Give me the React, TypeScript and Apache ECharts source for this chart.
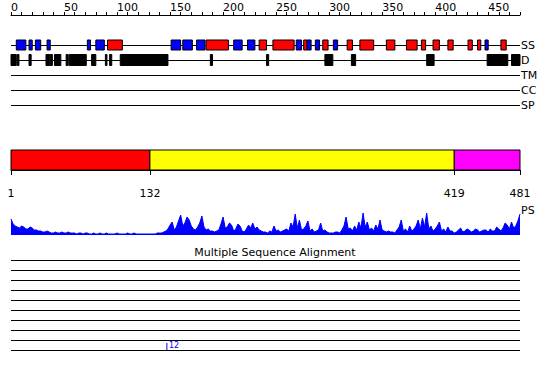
import React, { useEffect, useRef } from 'react';
import * as echarts from 'echarts';

const SEQ_MAX = 480;
const trackNames = ['SS', 'D', 'TM', 'CC', 'SP'];
// secondary structure (positions on the residue scale)
const helixSegments = [
  [91, 105], [184, 205], [234, 241], [247, 267], [276, 279], [294, 299], [317, 322],
  [329, 342], [354, 362], [373, 383], [387, 391], [398, 404], [412, 417], [431, 435],
  [440, 443], [462, 467],
];
const strandSegments = [
  [5, 14], [17, 20], [23, 28], [34, 37], [72, 75], [80, 88], [151, 160], [162, 171],
  [175, 183], [210, 218], [223, 230], [269, 274], [279, 283], [287, 291], [304, 308],
  [447, 450],
];
const disorderSegments = [
  [0, 5], [6, 7.5], [17, 19], [33, 36.5], [37, 39], [41, 47], [52, 54], [55, 71],
  [76, 80], [89, 90.5], [93, 95], [103, 148], [188, 190], [241, 243], [296, 303.5],
  [321, 325], [392, 399], [449, 468.5], [472, 480],
];
const domainStarts = [1, 132, 419];
const domainEnds = [132, 419, 481];
const domainColors = ['#ff0000', '#ffff00', '#ff00ff'];
const scaleLabels = [1, 132, 419, 481];
const profileStep = 2;
const profileValues = [
  16, 11, 9, 8, 7, 9, 8, 6, 6, 8, 7, 5, 5, 4, 4, 3, 3, 4, 3, 2,
  2, 3, 2, 2, 3, 2, 2, 3, 2, 2, 2, 1, 2, 2, 1, 2, 2, 1, 1, 2,
  1, 1, 2, 1, 1, 2, 1, 1, 1, 1, 2, 1, 1, 1, 1, 2, 1, 1, 2, 1,
  1, 1, 1, 1, 1, 1, 1, 1, 1, 2, 2, 2, 3, 4, 6, 10, 13, 5, 8, 14,
  20, 9, 12, 18, 15, 9, 6, 5, 8, 12, 19, 8, 5, 6, 4, 4, 3, 4, 5, 11,
  18, 7, 8, 12, 10, 4, 6, 11, 9, 4, 3, 6, 10, 7, 12, 6, 8, 5, 4, 3,
  3, 2, 4, 3, 9, 4, 5, 3, 4, 5, 6, 4, 12, 8, 21, 7, 15, 5, 6, 9,
  14, 4, 6, 3, 4, 5, 12, 4, 5, 3, 2, 2, 2, 3, 3, 2, 5, 9, 18, 6,
  7, 4, 9, 5, 13, 7, 22, 8, 13, 5, 7, 4, 10, 6, 15, 5, 4, 3, 4, 3,
  3, 2, 5, 8, 15, 4, 6, 3, 9, 4, 6, 9, 15, 6, 17, 8, 22, 6, 9, 4,
  6, 9, 13, 4, 6, 3, 8, 4, 4, 2, 3, 5, 7, 3, 4, 6, 5, 3, 4, 6,
  5, 3, 4, 5, 5, 3, 6, 4, 4, 8, 6, 4, 7, 12, 10, 6, 13, 7, 9, 14,
  21,
];
const msaRows = ['1', '2', '3', '4', '5', '6', '7', '8', '9', '10'];
const msaMarks = [{ pos: 147, row: 9, text: '12' }];
const msaTitle = 'Multiple Sequence Alignment';

const FONT = 'DejaVu Sans';

export default function App() {
  const ref = useRef<HTMLDivElement>(null);
  useEffect(() => {
    const chart = echarts.init(ref.current!, null, { renderer: 'svg' });
    const gridX = { left: 11, width: 509 };
    const hiddenX = (gi: number) => ({
      type: 'value', gridIndex: gi, min: 0, max: SEQ_MAX, show: false,
    });
    const option: any = {
      animation: false,
      backgroundColor: '#ffffff',
      title: {
        text: msaTitle, left: 'center', top: 242,
        textStyle: { fontFamily: FONT, fontSize: 11, fontWeight: 'normal', color: '#000' },
      },
      grid: [
        { ...gridX, top: 45, height: 60 },
        { ...gridX, top: 150, height: 20 },
        { ...gridX, top: 210, height: 25 },
        { ...gridX, top: 260, height: 90 },
      ],
      xAxis: [
        {
          type: 'value', gridIndex: 0, min: 0, max: SEQ_MAX, interval: 10,
          position: 'top', offset: 30,
          axisLine: { show: true, lineStyle: { color: '#000', width: 1 } },
          axisTick: { show: true, length: 3, lineStyle: { color: '#000' } },
          axisLabel: {
            show: true, interval: 0, align: 'left', margin: 2,
            fontFamily: FONT, fontSize: 11, color: '#000',
            formatter: (v: number) => (v % 50 === 0 ? String(v) : ''),
          },
          splitLine: { show: false },
        },
        {
          type: 'value', gridIndex: 1, min: 0, max: SEQ_MAX, position: 'bottom', offset: 10,
          axisLine: { show: true, lineStyle: { color: '#000', width: 1 } },
          axisTick: { show: true, length: 5, customValues: scaleLabels.map((v) => v - 1), lineStyle: { color: '#000' } },
          axisLabel: {
            show: true, margin: 8, customValues: scaleLabels.map((v) => v - 1),
            fontFamily: FONT, fontSize: 11, color: '#000',
            formatter: (v: number) => String(Math.round(v) + 1),
          },
          splitLine: { show: false },
        },
        hiddenX(2),
        hiddenX(3),
      ],
      yAxis: [
        {
          type: 'category', gridIndex: 0, data: trackNames, inverse: true, boundaryGap: false,
          position: 'right',
          axisLine: { show: false }, axisTick: { show: false },
          axisLabel: { show: true, interval: 0, margin: 1, fontFamily: FONT, fontSize: 11, color: '#000' },
          splitLine: { show: true, interval: 0, lineStyle: { color: '#000', width: 1 } },
        },
        { type: 'value', gridIndex: 1, min: 0, max: 1, show: false },
        { type: 'value', gridIndex: 2, min: 0, max: 25, show: false },
        {
          type: 'category', gridIndex: 3, data: msaRows, boundaryGap: false, inverse: true,
          axisLine: { show: false }, axisTick: { show: false }, axisLabel: { show: false },
          splitLine: { show: true, interval: 0, lineStyle: { color: '#000', width: 1 } },
        },
      ],
      graphic: [
        {
          type: 'text', left: 521, top: 205,
          style: { text: 'PS', fontFamily: FONT, fontSize: 11, fill: '#000' },
        },
      ],
      series: [
        {
          type: 'custom', xAxisIndex: 0, yAxisIndex: 0,
          data: [
            ...disorderSegments.map((s) => [s[0], s[1], 1, 2]),
            ...strandSegments.map((s) => [s[0], s[1], 0, 0]),
            ...helixSegments.map((s) => [s[0], s[1], 0, 1]),
          ],
          encode: { x: [0, 1], y: 2 },
          renderItem: (params: any, api: any) => {
            const a = api.coord([api.value(0), api.value(2)]);
            const b = api.coord([api.value(1), api.value(2)]);
            const kind = api.value(3);
            const h = kind === 2 ? 11 : 10;
            const fill = kind === 0 ? '#0000ff' : kind === 1 ? '#ff0000' : '#000000';
            return {
              type: 'rect',
              shape: { x: a[0], y: a[1] - h / 2, width: Math.max(b[0] - a[0], 1.5), height: h },
              style: { fill, stroke: '#000', lineWidth: 1 },
            };
          },
        },
        {
          type: 'custom', xAxisIndex: 1, yAxisIndex: 1,
          data: domainStarts.map((s, i) => [s - 1, domainEnds[i] - 1, i]),
          encode: { x: [0, 1] },
          renderItem: (params: any, api: any) => {
            const a = api.coord([api.value(0), 1]);
            const b = api.coord([api.value(1), 0]);
            return {
              type: 'rect',
              shape: { x: a[0], y: a[1], width: b[0] - a[0], height: b[1] - a[1] },
              style: { fill: domainColors[api.value(2)], stroke: '#000', lineWidth: 1 },
            };
          },
        },
        {
          type: 'line', xAxisIndex: 2, yAxisIndex: 2,
          data: profileValues.map((v, i) => [i * profileStep, v]),
          showSymbol: false, symbol: 'none',
          lineStyle: { color: '#0000ff', width: 1 },
          areaStyle: { color: '#0000ff', opacity: 1 },
        },
        {
          type: 'custom', xAxisIndex: 3, yAxisIndex: 3,
          data: msaMarks.map((m) => [m.pos, m.row, m.text]),
          encode: { x: 0, y: 1 },
          renderItem: (params: any, api: any) => {
            const p = api.coord([api.value(0), api.value(1)]);
            const t = msaMarks[params.dataIndex].text;
            return {
              type: 'group',
              children: [
                { type: 'line', shape: { x1: p[0], y1: p[1] - 7, x2: p[0], y2: p[1] }, style: { stroke: '#0000ff', lineWidth: 1 } },
                { type: 'text', x: p[0] + 2, y: p[1] - 9, style: { text: t, fontFamily: FONT, fontSize: 8, fill: '#0000ff' } },
              ],
            };
          },
        },
      ],
    };
    chart.setOption(option);
    return () => chart.dispose();
  }, []);
  return (
    <div
      ref={ref}
      style={{ position: 'fixed', left: 0, top: 0, width: 550, height: 380, background: '#fff' }}
    />
  );
}
